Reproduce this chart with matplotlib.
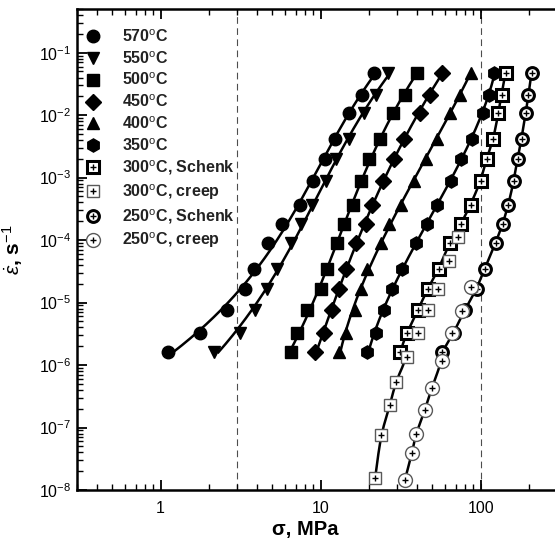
import numpy as np
import matplotlib
matplotlib.use("Agg")
import matplotlib.pyplot as plt
from matplotlib.lines import Line2D

plt.rcParams['font.family'] = ['Liberation Sans', 'DejaVu Sans']
plt.rcParams['mathtext.fontset'] = 'custom'
plt.rcParams['mathtext.rm'] = 'Liberation Sans'
plt.rcParams['mathtext.it'] = 'Liberation Sans:italic'
plt.rcParams['mathtext.bf'] = 'Liberation Sans:bold'

# strain-rate levels (s^-1) shared by most series
rates = [4.8e-2, 2.1e-2, 1.07e-2, 4.2e-3, 2.0e-3, 8.9e-4, 3.7e-4,
         1.78e-4, 9.1e-5, 3.5e-5, 1.66e-5, 7.6e-6, 3.3e-6, 1.6e-6]

s570 = [21.5, 18.1, 15.1, 12.3, 10.7, 8.98, 7.45, 5.75, 4.71, 3.85, 3.39, 2.58, 1.75, 1.11]
s550 = [26.4, 22.2, 18.7, 15.1, 12.5, 10.8, 8.85, 7.56, 6.55, 5.3, 4.6, 3.91, 3.11, 2.14]
s500 = [39.9, 33.6, 28.3, 23.5, 20.1, 17.9, 15.9, 14.0, 12.7, 11.0, 10.1, 8.24, 7.14, 6.55]
s450 = [57.1, 48.1, 41.7, 33.1, 28.7, 24.5, 20.9, 19.2, 16.6, 14.4, 13.0, 11.8, 10.5, 9.25]
s400 = [86.6, 74.0, 64.1, 53.2, 45.4, 38.3, 31.8, 26.7, 23.8, 19.5, 17.9, 16.4, 14.4, 13.0]
s350 = [122, 112, 103, 87.9, 75.0, 65.0, 53.2, 46.1, 39.4, 32.2, 27.9, 24.9, 22.2, 19.5]
s300_schenk = [143, 135, 129, 120, 109, 100, 86.6, 75.0, 64.1, 54.7, 46.7, 40.5, 34.6, 31.3]
s250_schenk = [208, 199, 191, 180, 170, 161, 149, 137, 124, 106, 94.4, 79.4, 67.9, 57.1]

s300_creep = [71.9, 63.2, 54.0, 46.7, 40.5, 34.6, 29.5, 27.1, 23.8, 21.9]
r300_creep = [1.12e-4, 4.7e-5, 1.66e-5, 7.6e-6, 3.3e-6, 1.35e-6, 5.4e-7, 2.3e-7, 7.6e-8, 1.55e-8]
s250_creep = [86.6, 76.2, 65.9, 57.1, 49.5, 44.8, 39.4, 37.2, 33.6]
r250_creep = [1.78e-5, 7.4e-6, 3.2e-6, 1.17e-6, 4.3e-7, 1.9e-7, 7.9e-8, 3.9e-8, 1.45e-8]

labels = ['570$^\\mathrm{o}$C', '550$^\\mathrm{o}$C', '500$^\\mathrm{o}$C', '450$^\\mathrm{o}$C',
          '400$^\\mathrm{o}$C', '350$^\\mathrm{o}$C', '300$^\\mathrm{o}$C, Schenk',
          '300$^\\mathrm{o}$C, creep', '250$^\\mathrm{o}$C, Schenk', '250$^\\mathrm{o}$C, creep']

fig = plt.figure(figsize=(5.55, 5.45), dpi=100)
ax = fig.add_axes([77/555, 55/545, 480/555, 481/545])
ax.set_xscale('log')
ax.set_yscale('log')
ax.set_xlim(0.3, 300)
ax.set_ylim(1e-8, 0.5)

ax.axvline(3, color='0.3', lw=0.8, ls=(0, (6, 4)), zorder=1)
ax.axvline(100, color='0.3', lw=0.8, ls=(0, (6, 4)), zorder=1)


def fit_line(xs, ys, deg=3):
    lx = np.log10(np.asarray(xs, float))
    ly = np.log10(np.asarray(ys, float))
    p = np.polyfit(ly, lx, deg)
    yy = np.linspace(ly.min(), ly.max(), 200)
    ax.plot(10 ** np.polyval(p, yy), 10 ** yy, color='black', lw=1.8, zorder=2)


def smooth_line(xs, ys, it=3):
    pts = np.column_stack([np.log10(xs), np.log10(ys)])
    for _ in range(it):
        q = 0.75 * pts[:-1] + 0.25 * pts[1:]
        r_ = 0.25 * pts[:-1] + 0.75 * pts[1:]
        new = np.empty((2 * len(q), 2))
        new[0::2] = q
        new[1::2] = r_
        pts = np.vstack([pts[:1], new, pts[-1:]])
    ax.plot(10 ** pts[:, 0], 10 ** pts[:, 1], color='black', lw=1.8, zorder=2)


for s in [s570, s550, s500, s450, s400, s350]:
    fit_line(s, rates)

# combined lines for 300 and 250 (Schenk, then creep below Schenk range)
rmin = min(rates)
low3 = [(x, y) for x, y in zip(s300_creep, r300_creep) if y < rmin]
smooth_line(list(s300_schenk) + [p[0] for p in low3], list(rates) + [p[1] for p in low3])
low2 = [(x, y) for x, y in zip(s250_creep, r250_creep) if y < rmin]
smooth_line(list(s250_schenk) + [p[0] for p in low2], list(rates) + [p[1] for p in low2])

ms = 9
ax.plot(s570, rates, 'o', color='black', ms=ms, zorder=3)
ax.plot(s550, rates, 'v', color='black', ms=ms, zorder=3)
ax.plot(s500, rates, 's', color='black', ms=ms - 0.5, zorder=3)
ax.plot(s450, rates, 'D', color='black', ms=ms - 1, zorder=3)
ax.plot(s400, rates, '^', color='black', ms=ms, zorder=3)
ax.plot(s350, rates, 'h', color='black', ms=ms + 0.5, zorder=3)

ax.plot(s300_schenk, rates, 's', mfc='white', mec='black', mew=2.2, ms=ms - 1, zorder=3)
ax.plot(s300_schenk, rates, '+', color='black', ms=4, mew=1, zorder=3)
ax.plot(s250_schenk, rates, 'o', mfc='white', mec='black', mew=2.2, ms=ms - 0.5, zorder=3)
ax.plot(s250_schenk, rates, '+', color='black', ms=4, mew=1, zorder=3)

ax.plot(s300_creep, r300_creep, 's', mfc='white', mec='0.35', mew=1, ms=ms, zorder=4)
ax.plot(s300_creep, r300_creep, '+', color='black', ms=4.5, mew=1, zorder=4)
ax.plot(s250_creep, r250_creep, 'o', mfc='white', mec='0.35', mew=1, ms=ms + 1, zorder=4)
ax.plot(s250_creep, r250_creep, '+', color='black', ms=4.5, mew=1, zorder=4)

# legend
handles = [
    Line2D([], [], ls='none', marker='o', color='black', ms=ms),
    Line2D([], [], ls='none', marker='v', color='black', ms=ms),
    Line2D([], [], ls='none', marker='s', color='black', ms=ms - 0.5),
    Line2D([], [], ls='none', marker='D', color='black', ms=ms - 1),
    Line2D([], [], ls='none', marker='^', color='black', ms=ms),
    Line2D([], [], ls='none', marker='h', color='black', ms=ms + 0.5),
    (Line2D([], [], ls='none', marker='s', mfc='white', mec='black', mew=2.2, ms=ms - 1),
     Line2D([], [], ls='none', marker='+', color='black', ms=4, mew=1)),
    (Line2D([], [], ls='none', marker='s', mfc='white', mec='0.35', mew=1, ms=ms),
     Line2D([], [], ls='none', marker='+', color='black', ms=4.5, mew=1)),
    (Line2D([], [], ls='none', marker='o', mfc='white', mec='black', mew=2.2, ms=ms - 0.5),
     Line2D([], [], ls='none', marker='+', color='black', ms=4, mew=1)),
    (Line2D([], [], ls='none', marker='o', mfc='white', mec='0.35', mew=1, ms=ms + 1),
     Line2D([], [], ls='none', marker='+', color='black', ms=4.5, mew=1)),
]
leg = ax.legend(handles, labels, loc='upper left', bbox_to_anchor=(-0.009, 0.983),
                frameon=False, handlelength=1.2, handletextpad=1.2, labelspacing=0.32,
                borderaxespad=0.3, prop={'family': 'Liberation Sans', 'weight': 'bold', 'size': 11.5},
                numpoints=1)
for t in leg.get_texts():
    t.set_color('#222222')

for sp in ax.spines.values():
    sp.set_linewidth(1.8)
ax.tick_params(which='both', direction='in', top=True, right=False, labelsize=11.5)
ax.tick_params(which='major', length=7, width=1.3)
ax.tick_params(which='minor', length=4, width=1.0)
ax.xaxis.set_major_locator(matplotlib.ticker.LogLocator(base=10, numticks=10))
ax.xaxis.set_minor_locator(matplotlib.ticker.LogLocator(base=10, subs=np.arange(2, 10), numticks=20))
ax.yaxis.set_major_locator(matplotlib.ticker.FixedLocator([10.0 ** k for k in range(-8, 0)]))
ax.yaxis.set_minor_locator(matplotlib.ticker.LogLocator(base=10, subs=np.arange(2, 10), numticks=40))
ax.xaxis.set_major_formatter(matplotlib.ticker.FuncFormatter(lambda v, p: '%g' % v))
ax.yaxis.set_major_formatter(matplotlib.ticker.FuncFormatter(
    lambda v, p: '10$^{%d}$' % round(np.log10(v))))
ax.tick_params(axis='x', pad=8)
ax.tick_params(axis='y', pad=4)

ax.set_xlabel('σ, MPa', fontsize=14.5, fontweight='bold')
ax.xaxis.set_label_coords(0.475, -0.062)
ax.set_ylabel('$\\dot{\\varepsilon}$, s$^{-1}$', fontsize=15, fontweight='bold')
ax.yaxis.set_label_coords(-0.108, 0.5)

fig.savefig('out.png', dpi=100)
